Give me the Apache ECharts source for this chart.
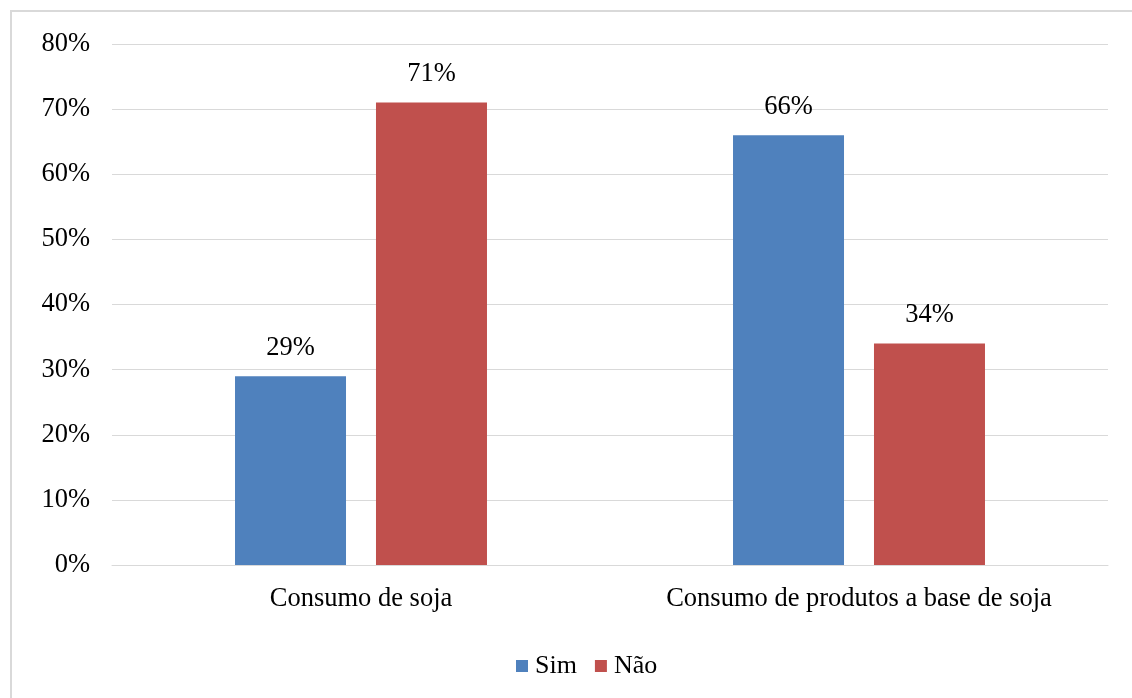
<!DOCTYPE html>
<html>
<head>
<meta charset="utf-8">
<script src="https://cdn.jsdelivr.net/npm/echarts@6/dist/echarts.min.js"></script>
<style>
  html, body { margin: 0; padding: 0; background: #fff; }
  #frame { position: absolute; left: 10px; top: 10px; width: 1130px; height: 700px; border: 2px solid #d9d9d9; box-sizing: border-box; }
  #chart { position: absolute; left: 0; top: 0; width: 1132px; height: 698px; }
</style>
</head>
<body>
<div id="frame"></div>
<div id="chart"></div>
<script>
// categorias e valores (%)
var categories = ['Consumo de soja', 'Consumo de produtos a base de soja'];
var sim = [29, 66];
var nao = [71, 34];
var yTicks = [0, 10, 20, 30, 40, 50, 60, 70, 80];

var font = '"Liberation Serif", "Times New Roman", serif';
var fs = 26.5;

var myChart = echarts.init(document.getElementById('chart'));
var option = {
    animation: false,
    textStyle: { fontFamily: font },
    grid: {
        left: 112,
        right: 24,
        top: 44,
        bottom: 133
    },
    legend: {
        data: ['Sim', 'Não'],
        top: 648,
        left: 511,
        itemWidth: 12,
        itemHeight: 12,
        itemGap: 18,
        icon: 'rect',
        textStyle: { fontFamily: font, fontSize: 26, color: '#000', padding: [0, 0, 0, 2] }
    },
    xAxis: {
        type: 'category',
        data: categories,
        axisLine: { lineStyle: { color: '#d9d9d9', width: 1 } },
        axisTick: { show: false },
        axisLabel: { interval: 0, fontFamily: font, fontSize: fs, color: '#000', margin: 21 }
    },
    yAxis: {
        type: 'value',
        min: yTicks[0],
        max: yTicks[yTicks.length - 1],
        interval: 10,
        axisLine: { show: false },
        axisTick: { show: false },
        splitLine: { lineStyle: { color: '#d9d9d9', width: 1 } },
        axisLabel: { fontFamily: font, fontSize: fs, color: '#000', margin: 22, formatter: '{value}%' }
    },
    series: [
        {
            name: 'Sim',
            type: 'bar',
            data: sim,
            barWidth: 111,
            barGap: '27%',
            itemStyle: { color: '#4f81bd' },
            label: { show: true, position: 'top', distance: 15, formatter: '{c}%', fontFamily: font, fontSize: fs, color: '#000' }
        },
        {
            name: 'Não',
            type: 'bar',
            data: nao,
            barWidth: 111,
            itemStyle: { color: '#c0504d' },
            label: { show: true, position: 'top', distance: 15, formatter: '{c}%', fontFamily: font, fontSize: fs, color: '#000' }
        }
    ]
};
myChart.setOption(option);
</script>
</body>
</html>
